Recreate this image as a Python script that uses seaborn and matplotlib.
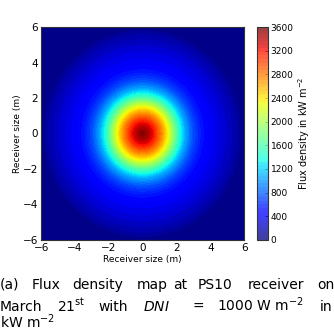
import numpy as np
import matplotlib
matplotlib.use("Agg")
import matplotlib.pyplot as plt
import seaborn as sns
from matplotlib.colors import BoundaryNorm
from matplotlib.cm import ScalarMappable

# Radial flux profile (radius in m, flux in kW m^-2)
radius_m = [0.0, 0.4, 0.8, 1.2, 1.6, 2.0, 2.5, 3.0, 3.5, 4.0, 4.5, 5.0, 5.5, 5.8, 6.1, 8.5]
flux_kw = [3600, 3400, 3050, 2650, 2150, 1600, 1050, 700, 500, 390, 310, 230, 140, 60, 0, 0]
x_ticks = [-6, -4, -2, 0, 2, 4, 6]
cbar_ticks = [0, 400, 800, 1200, 1600, 2000, 2400, 2800, 3200, 3600]

sns.set_style("ticks")
plt.rcParams['font.family'] = ['DejaVu Sans']
plt.rcParams.update({"text.color": "black", "axes.labelcolor": "black",
                     "xtick.color": "black", "ytick.color": "black"})

fig = plt.figure(figsize=(3.34, 3.30), dpi=100)
ax = fig.add_axes([0.123, 0.273, 0.608, 0.645])
cax = fig.add_axes([0.769, 0.273, 0.033, 0.645])

g = np.linspace(-6, 6, 241)
X, Y = np.meshgrid(g, g)
R = np.sqrt(X**2 + Y**2)
Z = np.interp(R, radius_m, flux_kw)

levels = np.linspace(0, 3600, 61)
cmap = matplotlib.colormaps["jet"]
ax.contourf(X, Y, Z, levels=levels, cmap=cmap, vmin=0, vmax=3600)
ax.set_xlim(-6, 6)
ax.set_ylim(-6, 6)
ax.set_xticks(x_ticks)
ax.set_yticks(x_ticks)
ax.set_xticklabels([f"{t}".replace("-", "\u2212") for t in x_ticks], fontsize=7.5)
ax.set_yticklabels([f"{t}".replace("-", "\u2212") for t in x_ticks], fontsize=7.5)
ax.tick_params(direction="in", length=3, width=0.6, top=True, right=True, pad=2)
for s in ax.spines.values():
    s.set_linewidth(0.8)
    s.set_color("#333333")
ax.set_xlabel("Receiver size (m)", fontsize=6.5, labelpad=2)
ax.set_ylabel("Receiver size (m)", fontsize=6.5, labelpad=1)

norm = BoundaryNorm(levels, cmap.N)
cb = fig.colorbar(ScalarMappable(norm=norm, cmap=cmap), cax=cax, alpha=0.75,
                  ticks=cbar_ticks)
cb.minorticks_off()
cb.ax.tick_params(labelsize=6.5, direction="in", length=2, width=0.5, pad=2)
cb.outline.set_linewidth(0.8)
cb.outline.set_edgecolor("#333333")
cb.set_label(r"Flux density in kW m$^{-2}$", fontsize=7, labelpad=2)

# Caption, justified word placement (x in px, baseline y in px)
W, H = 334.0, 330.0
line1 = [("(a)", 0), ("Flux", 32), ("density", 72), ("map", 137), ("at", 173),
         ("PS10", 198), ("receiver", 248), ("on", 317)]
line2 = [("March", 0), (r"21$^{\mathrm{st}}$", 57), ("with", 98), (r"$DNI$", 143),
         ("=", 193), (r"1000 W m$^{-2}$", 217), ("in", 320)]
line3 = [(r"kW m$^{-2}$", 0)]
for words, yb in [(line1, 289), (line2, 311), (line3, 328)]:
    for w, xp in words:
        fig.text(xp / W, 1 - yb / H, w, fontsize=10, ha="left", va="baseline")

fig.savefig("out.png", dpi=100)
